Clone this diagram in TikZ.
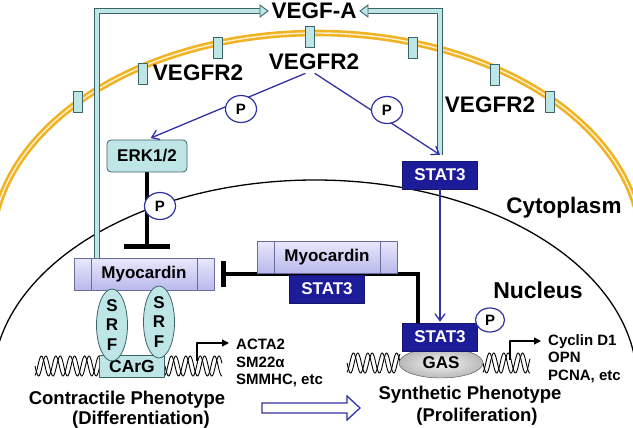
\documentclass[tikz,border=0pt]{standalone}
\usepackage{fontspec}
\setmainfont{Liberation Sans}
\usetikzlibrary{arrows.meta, shapes.geometric, backgrounds}

\definecolor{membr}{HTML}{F0B323}
\definecolor{cyanfill}{HTML}{BFE6E7}
\definecolor{cyanline}{HTML}{3A6466}
\definecolor{navyline}{HTML}{3131A3}
\definecolor{navybox}{HTML}{1C1C98}
\definecolor{lavtop}{HTML}{E8E8FC}
\definecolor{lavbot}{HTML}{B9B9EC}
\definecolor{lavline}{HTML}{6C6C9C}

\newcommand\fsz[1]{\fontsize{#1}{#1}\selectfont\bfseries}
\newcommand\dnahelix[3]{% from, to, centre line
  \draw[line width=0.9pt] plot[domain=#1:#2, samples=90, smooth] (\x, {#3+10*sin((\x-#1)*25)});
  \draw[line width=0.9pt] plot[domain=#1:#2, samples=90, smooth] (\x, {#3+10*sin((\x-#1)*25+110)});
}

\tikzset{
  membrane/.style={draw=membr, double=membr!20, double distance=1.4pt, line width=2.6pt},
  receptor/.style={cylinder, shape border rotate=90, draw=cyanline, fill=cyanfill,
    minimum width=9pt, minimum height=21pt, aspect=0.3, inner sep=0pt, line width=0.8pt},
  lbl/.style={font=\fsz{22.5}},
  pheno/.style={font=\fsz{18.5}, inner sep=0.5pt},
  myobox/.style={draw=lavline, top color=lavtop, bottom color=lavbot, line width=0.8pt,
    minimum width=140pt, minimum height=32pt, inner sep=0pt, font=\fsz{17},
    path picture={\draw[lavline, line width=0.8pt]
      ([xshift=17pt]path picture bounding box.north west) -- ([xshift=17pt]path picture bounding box.south west)
      ([xshift=-17pt]path picture bounding box.north east) -- ([xshift=-17pt]path picture bounding box.south east);}},
  statbox/.style={fill=navybox, draw=navybox!70!black, text=white, minimum width=75pt,
    minimum height=28pt, inner sep=0pt, font=\fsz{17}},
  erkbox/.style={draw=cyanline, fill=cyanfill, rounded corners=4pt, line width=0.8pt,
    minimum width=80pt, minimum height=32pt, inner sep=0pt, font=\fsz{17}},
  cargbox/.style={draw=cyanline, fill=cyanfill, line width=0.8pt, minimum width=65pt,
    minimum height=22pt, inner sep=0pt, font=\fsz{17.5}},
  srf/.style={ellipse, draw=cyanline, fill=cyanfill, line width=0.8pt, minimum width=31pt,
    minimum height=68pt, inner sep=0pt, align=center, font=\fontsize{17}{19.5}\selectfont\bfseries},
  gas/.style={ellipse, draw=gray!60!black, inner color=gray!8, outer color=gray!55,
    minimum width=84pt, minimum height=30pt, inner sep=0pt, font=\fsz{17}},
  phos/.style={ellipse, draw=navyline, fill=white, line width=1.2pt, minimum width=31pt,
    minimum height=27pt, inner sep=0pt, font=\fsz{15}},
  genes/.style={align=left, inner sep=0pt, font=\fontsize{15}{17.5}\selectfont\bfseries},
  secr/.style={draw=cyanline, double=cyanfill, double distance=4.2pt, line width=0.9pt,
    line cap=butt, line join=miter},
  secrhead/.style={draw=cyanline, fill=cyanfill, line width=0.9pt, line join=miter},
  sig/.style={draw=navyline, line width=1.3pt, -{Straight Barb[length=7pt, width=10pt]}},
  inh/.style={line width=4.5pt, line cap=butt, -{Bar[width=#1]}},
  inh/.default=26pt,
  tx/.style={line width=1.2pt, line cap=butt, -{Triangle[length=7pt, width=7pt]}},
  hollow/.style={draw=navyline, fill=white, line width=1.3pt, line join=miter}
}

\begin{document}
\begin{tikzpicture}[x=1pt, y=-1pt, line cap=round, line join=round]
\useasboundingbox (0,0) rectangle (633,428);
\clip (0,0) rectangle (633,428);

% receptors on the membrane
\foreach \px/\py [count=\i] in {78/102, 143/74, 218/48, 310/37, 413/48, 495/75, 550/102}
  \node[receptor] (r\i) at (\px,\py) {};

% labels
\node[lbl] (vegfa) at (314,11) {VEGF-A};
\node[lbl] (vr2L) at (198,73) {VEGFR2};
\node[lbl] (vr2M) at (314,62) {VEGFR2};
\node[lbl] (vr2R) at (490,105) {VEGFR2};
\node[lbl] (cyto) at (564,208) {Cytoplasm};
\node[lbl, font=\fsz{23}] (nucl) at (538,290) {Nucleus};

% proteins
\node[erkbox] (erk) at (147,156) {ERK1/2};
\node[statbox] (stat3C) at (440,175) {STAT3};
\node[myobox] (myoL) at (144,274) {Myocardin};
\node[myobox] (myoT) at (327,257) {Myocardin};
\node[statbox] (stat3T) at (327,289) {STAT3};
\node[cargbox] (carg) at (132,366) {CArG};
\node[srf] (srf1) at (112,325) {S\\R\\F};
\node[srf] (srf2) at (159,322) {S\\R\\F};
\node[gas] (gas) at (441,363) {GAS};
\node[statbox] (stat3N) at (440,337) {STAT3};

% target genes
\node[genes, anchor=north west] (genesL) at (236,339) {ACTA2\\SM22α\\SMMHC, etc};
\node[genes, anchor=north west] (genesR) at (548,334) {Cyclin D1\\OPN\\PCNA, etc};

\begin{pgfonlayer}{background}
\clip (0,0) rectangle (633,428);
% cell membrane and nuclear envelope
\draw[membrane] (317,248) ++(175:325 and 215) arc[start angle=175, end angle=365, x radius=325, y radius=215];
\draw[line width=1.3pt] (315,382) ++(175:322 and 202) arc[start angle=175, end angle=365, x radius=322, y radius=202];
% DNA
\dnahelix{35}{100}{366}
\dnahelix{165}{222}{366}
\dnahelix{347}{400}{363}
\dnahelix{483}{530}{363}
% inhibition
\draw[inh=46pt, shorten >=9pt] (erk.south) -- (erk.south |- myoL.north);
\draw[inh, shorten >=7pt] ([xshift=-22pt]stat3N.north) |- (myoL.east);
\end{pgfonlayer}

% transcription start
\coordinate (txL) at (197,361);
\coordinate (txLend) at (229,343);
\coordinate (txR) at (510,360);
\coordinate (txRend) at (541,341);
\draw[tx] (txL) |- (txLend);
\draw[tx] (txR) |- (txRend);

% VEGF-A secretion
\coordinate (lx) at (97,0);
\draw[secr] (myoL.north -| lx) |- ([xshift=-8pt]vegfa.west);
\draw[secrhead] (vegfa.west) -- ++(-8,-6) -- ++(0,12) -- cycle;
\draw[secr] ([yshift=6pt]stat3C.north) |- ([xshift=8pt]vegfa.east);
\draw[secrhead] (vegfa.east) -- ++(8,-6) -- ++(0,12) -- cycle;

% signalling
\draw[sig, shorten >=4pt] ([xshift=-9pt]vr2M.south) -- (erk.north);
\draw[sig] ([xshift=1pt]vr2M.south) -- ([yshift=6pt]stat3C.north);
\draw[sig, shorten >=1pt] (stat3C.south) -- (stat3N.north);

% phosphorylation
\node[phos] (pL) at (241,109) {P};
\node[phos] (pR) at (387,110) {P};
\node[phos] (pE) at (160,206) {P};
\node[phos, minimum width=29pt, minimum height=24pt] (pN) at (490,320) {P};

% phenotypes
\node[pheno] (contr1) at (127,399.5) {Contractile Phenotype};
\node[pheno] (contr2) at (141,419.5) {(Differentiation)};
\node[pheno] (synth1) at (470,395) {Synthetic Phenotype};
\node[pheno] (synth2) at (477,417) {(Proliferation)};
\draw[hollow] (262,403) -- (347,403) -- (347,396) -- (360,408) -- (347,420) -- (347,413) -- (262,413) -- cycle;
\end{tikzpicture}
\end{document}
